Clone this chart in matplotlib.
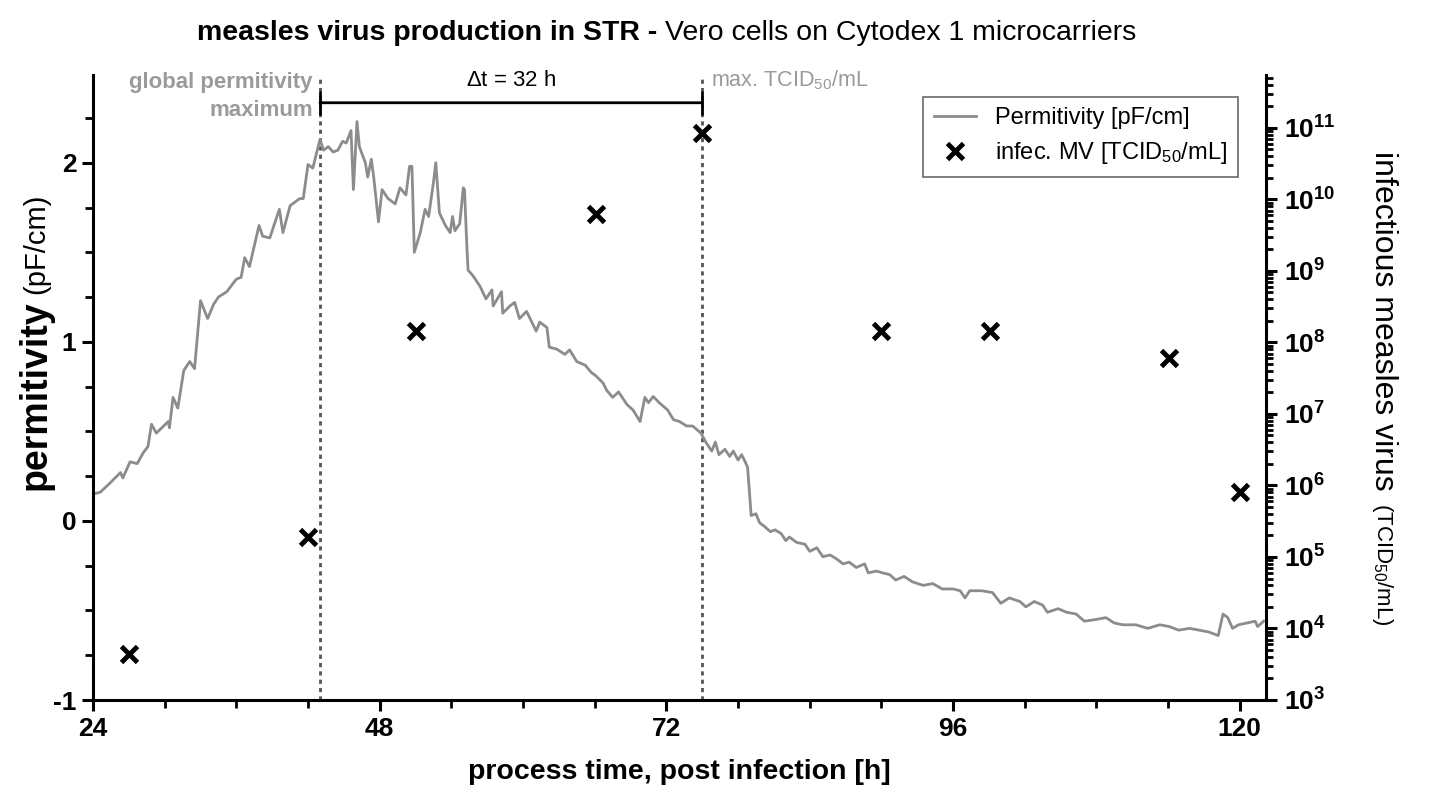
"""
measles virus production in STR - permitivity vs. infectious virus titer
"""

import numpy as np
import matplotlib
matplotlib.use('Agg')
import matplotlib.pyplot as plt
from matplotlib.ticker import FixedLocator, MultipleLocator, NullFormatter

plt.rcParams['font.family'] = ['Liberation Sans', 'DejaVu Sans']
plt.rcParams['mathtext.fontset'] = 'custom'
plt.rcParams['mathtext.rm'] = 'Liberation Sans'
plt.rcParams['mathtext.bf'] = 'Liberation Sans:bold'
plt.rcParams['mathtext.it'] = 'Liberation Sans:italic'
plt.rcParams['axes.unicode_minus'] = False

# Permitivity trace (pF/cm)
time_h = [24.0, 24.6, 25.4, 26.3, 26.5, 27.1, 27.7, 28.2, 28.6, 28.9, 29.3, 30.3, 30.4, 30.7,
          31.1, 31.6, 32.1, 32.5, 33.0, 33.6, 34.1, 34.5, 35.2, 36.0, 36.4, 36.7, 37.1, 37.9,
          38.2, 38.8, 39.6, 39.9, 40.5, 41.3, 41.6, 42.0, 42.4, 43.0, 43.3, 43.7, 44.1, 44.5,
          44.9, 45.2, 45.6, 45.8, 46.1, 46.3, 46.8, 47.0, 47.3, 47.5, 47.9, 48.2, 48.7, 49.3,
          49.7, 50.2, 50.5, 50.7, 50.9, 51.4, 51.8, 52.1, 52.5, 52.7, 53.0, 53.5, 53.9, 54.1,
          54.3, 54.7, 55.0, 55.1, 55.3, 55.4, 55.8, 56.4, 56.9, 57.4, 57.5, 58.2, 58.3, 58.9,
          59.3, 59.7, 60.3, 61.1, 61.4, 62.0, 62.2, 62.8, 63.5, 63.9, 64.5, 65.2, 65.7, 66.1,
          66.7, 67.0, 67.5, 68.0, 68.7, 69.2, 69.8, 70.2, 70.5, 70.9, 71.4, 72.1, 72.6, 73.1,
          73.7, 74.2, 74.9, 75.3, 75.8, 76.1, 76.4, 76.9, 77.3, 77.6, 78.0, 78.3, 78.6, 78.8,
          79.1, 79.5, 79.8, 80.2, 80.7, 81.1, 81.6, 82.0, 82.3, 82.9, 83.6, 84.0, 84.6, 85.1,
          85.7, 86.2, 86.8, 87.3, 87.9, 88.6, 88.9, 89.6, 90.1, 90.7, 91.2, 91.9, 92.6, 93.5,
          94.3, 95.1, 96.0, 96.6, 97.0, 97.4, 98.4, 99.3, 100.0, 100.7, 101.6, 102.1, 102.8,
          103.5, 103.9, 104.8, 105.5, 106.3, 107.0, 108.0, 108.8, 109.5, 110.2, 111.3, 112.3,
          113.3, 114.1, 114.9, 115.8, 116.6, 117.4, 118.2, 118.6, 119.0, 119.4, 119.9, 120.6,
          121.3, 121.5, 122.0]
permitivity = [0.15, 0.16, 0.21, 0.27, 0.24, 0.33, 0.32, 0.38, 0.415, 0.54, 0.49, 0.555, 0.52, 0.69,
               0.63, 0.84, 0.89, 0.85, 1.23, 1.13, 1.21, 1.25, 1.28, 1.35, 1.36, 1.47, 1.42, 1.65,
               1.59, 1.58, 1.74, 1.61, 1.76, 1.80, 1.80, 1.99, 1.97, 2.13, 2.07, 2.09, 2.06, 2.07,
               2.12, 2.11, 2.18, 1.85, 2.23, 2.09, 2.00, 1.92, 2.02, 1.92, 1.67, 1.85, 1.80, 1.77,
               1.86, 1.82, 1.98, 1.98, 1.50, 1.61, 1.74, 1.70, 1.89, 2.00, 1.72, 1.65, 1.61, 1.70,
               1.62, 1.66, 1.86, 1.85, 1.53, 1.40, 1.37, 1.31, 1.24, 1.29, 1.20, 1.28, 1.16, 1.20,
               1.22, 1.13, 1.17, 1.06, 1.11, 1.08, 0.97, 0.96, 0.93, 0.955, 0.89, 0.87, 0.83, 0.81,
               0.77, 0.73, 0.69, 0.72, 0.65, 0.62, 0.555, 0.69, 0.66, 0.695, 0.66, 0.62, 0.565, 0.555,
               0.53, 0.53, 0.49, 0.44, 0.39, 0.44, 0.37, 0.40, 0.36, 0.39, 0.34, 0.37, 0.33, 0.30,
               0.03, 0.04, -0.01, -0.03, -0.06, -0.05, -0.07, -0.11, -0.09, -0.12, -0.13, -0.17, -0.15, -0.20,
               -0.19, -0.21, -0.24, -0.23, -0.26, -0.24, -0.29, -0.28, -0.29, -0.30, -0.33, -0.31, -0.34, -0.36,
               -0.35, -0.38, -0.38, -0.39, -0.43, -0.39, -0.39, -0.40, -0.46, -0.43, -0.45, -0.48, -0.45,
               -0.47, -0.51, -0.49, -0.51, -0.52, -0.56, -0.55, -0.54, -0.57, -0.58, -0.58, -0.60,
               -0.58, -0.59, -0.61, -0.60, -0.61, -0.62, -0.64, -0.52, -0.54, -0.60, -0.58, -0.57,
               -0.56, -0.59, -0.56]

# Infectious measles virus titer (TCID50/mL)
sample_h = [27.0, 42.0, 51.0, 66.1, 75.0, 90.0, 99.1, 114.1, 120.0]
titer = [4.4e3, 1.9e5, 1.45e8, 6.3e9, 8.5e10, 1.45e8, 1.45e8, 6.0e7, 8.1e5]

t_max_perm = 43.0
t_max_titer = 75.0

line_grey = '#8c8c8c'
note_grey = '#9a9a9a'

fig = plt.figure(figsize=(14.4, 7.99), dpi=100)
ax = fig.add_axes([93 / 1440, 1 - 700 / 799, (1266 - 93) / 1440, 625 / 799])
ax2 = ax.twinx()

ln, = ax.plot(time_h, permitivity, color=line_grey, lw=2, label='Permitivity [pF/cm]')
sc, = ax2.plot(sample_h, titer, 'x', color='black', ms=11, mew=3.5,
               label=r'infec. MV [TCID$_{50}$/mL]')

ax.set_xlim(24, 122.2)
ax.set_ylim(-1, 2.49)
ax2.set_yscale('log')
ax2.set_ylim(1e3, 10 ** 11.74)

# vertical markers and the Δt bracket
for t in (t_max_perm, t_max_titer):
    ax.axvline(t, color='#555555', ls=(0, (1.5, 1.5)), lw=2, zorder=1)
ax.annotate('', xy=(t_max_perm, 2.335), xytext=(t_max_titer, 2.335),
            arrowprops=dict(arrowstyle='|-|', color='black', lw=2,
                            mutation_scale=8, shrinkA=0, shrinkB=0))
ax.text((t_max_perm + t_max_titer) / 2, 2.46, r'$\Delta$t = 32 h', ha='center',
        va='center', fontsize=16)
ax.text(t_max_perm - 0.6, 2.37, 'global permitivity\nmaximum', ha='right', va='center',
        fontsize=16, weight='bold', color=note_grey, linespacing=1.45)
ax.text(t_max_titer + 0.7, 2.46, r'max. TCID$_{50}$/mL', ha='left', va='center',
        fontsize=15.5, color=note_grey)

# spines and ticks
ax.spines['top'].set_visible(False)
ax2.spines['top'].set_visible(False)
for s in ('left', 'bottom'):
    ax.spines[s].set_linewidth(2.2)
ax2.spines['right'].set_linewidth(2.2)
ax2.spines['left'].set_visible(False)
ax2.spines['bottom'].set_visible(False)

ax.xaxis.set_major_locator(FixedLocator([24, 48, 72, 96, 120]))
ax.xaxis.set_minor_locator(MultipleLocator(6))
ax.yaxis.set_major_locator(FixedLocator([-1, 0, 1, 2]))
ax.yaxis.set_minor_locator(MultipleLocator(0.25))
ax.tick_params(which='major', length=8, width=2.2, labelsize=19, pad=4)
ax.tick_params(which='minor', length=6, width=2)
for lab in ax.get_xticklabels() + ax.get_yticklabels():
    lab.set_fontweight('bold')

decades = list(range(3, 12))
ax2.yaxis.set_major_locator(FixedLocator([10.0 ** d for d in decades]))
ax2.set_yticklabels([r'$\mathbf{10^{%d}}$' % d for d in decades])
ax2.yaxis.set_minor_locator(FixedLocator([m * 10.0 ** d for d in decades for m in range(2, 10)
                                          if m * 10.0 ** d < 10 ** 11.74]))
ax2.yaxis.set_minor_formatter(NullFormatter())
ax2.tick_params(which='major', length=8, width=2.2, labelsize=19, pad=5)
ax2.tick_params(which='minor', length=5, width=2)

# axis labels
ax.set_xlabel('process time, post infection [h]', fontsize=20.5, weight='bold', labelpad=13)
fig.text(36 / 1440, 1 - 300 / 799, 'permitivity', rotation=90, ha='center', va='top',
         fontsize=27, weight='bold')
fig.text(36 / 1440, 1 - 294 / 799, '(pF/cm)', rotation=90, ha='center', va='bottom',
         fontsize=21)
fig.text(1383 / 1440, 1 - 151 / 799, 'infectious measles virus', rotation=270, ha='center',
         va='top', fontsize=23)
fig.text(1382 / 1440, 1 - 503 / 799, r'(TCID$_{50}$/mL)', rotation=270, ha='center',
         va='top', fontsize=16)

# title, bold part then regular part
fig.text(665 / 1440, 1 - 33 / 799, 'measles virus production in STR - ', ha='right',
         va='center', fontsize=20.5, weight='bold')
fig.text(665 / 1440, 1 - 33 / 799, 'Vero cells on Cytodex 1 microcarriers', ha='left',
         va='center', fontsize=20.5)

leg = ax2.legend(handles=[ln, sc], loc='upper right', bbox_to_anchor=(0.986, 0.984),
                 fontsize=17, frameon=True, fancybox=False, edgecolor='#444444',
                 handlelength=1.8, borderpad=0.45, labelspacing=0.45)
leg.get_frame().set_linewidth(1.2)

fig.savefig('out.png', dpi=100)
